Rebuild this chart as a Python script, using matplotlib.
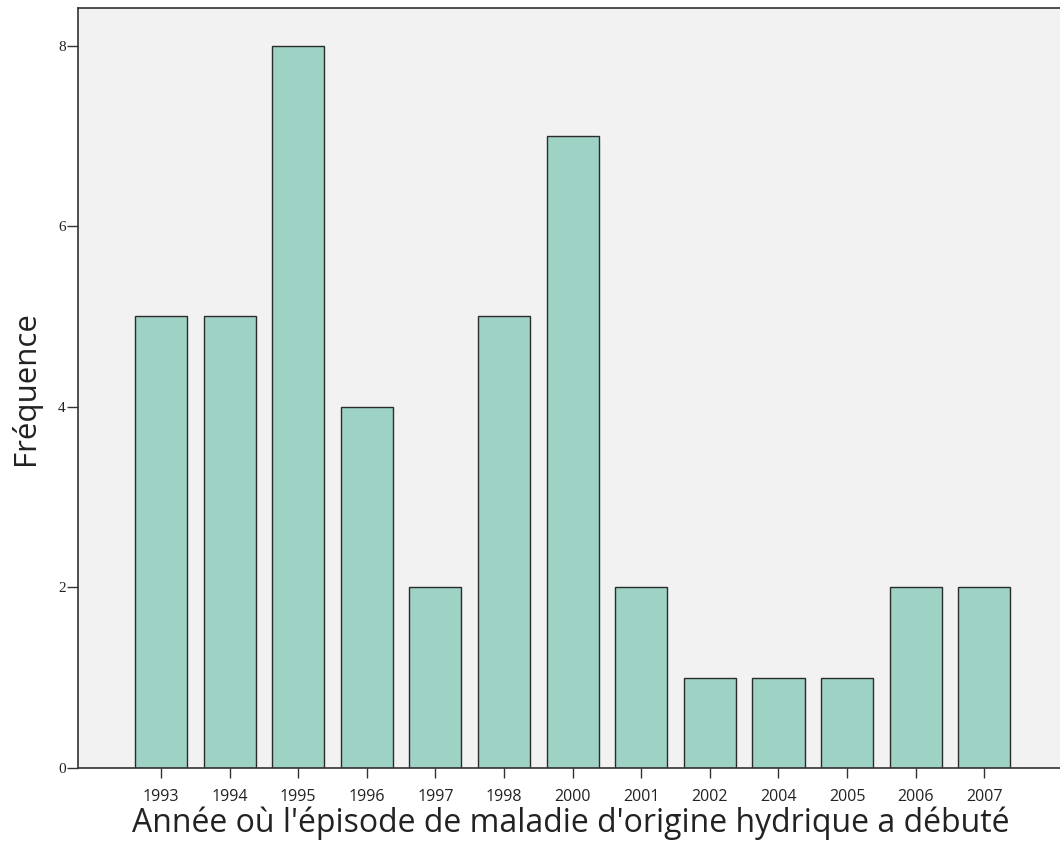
import matplotlib
matplotlib.use("Agg")
import matplotlib.pyplot as plt

# years and counts
years = ["1993", "1994", "1995", "1996", "1997", "1998", "2000",
         "2001", "2002", "2004", "2005", "2006", "2007"]
counts = [5, 5, 8, 4, 2, 5, 7, 2, 1, 1, 1, 2, 2]
y_ticks = [0, 2, 4, 6, 8]

fig = plt.figure(figsize=(10.6, 8.57), dpi=100)
ax = fig.add_axes([0.0736, 0.104, 0.93, 0.887])
ax.set_facecolor("#f2f2f2")

x = list(range(len(years)))
ax.bar(x, counts, width=0.76, color="#9ed2c5", edgecolor="#2b2b2b", linewidth=1.0, zorder=2)

ax.set_xlim(-1.21, 13.16)
ax.set_ylim(0, 8.42)
ax.set_xticks(x)
ax.set_xticklabels(years, fontsize=11.5, family="Open Sans", color="#222222")
ax.set_yticks(y_ticks)
ax.set_yticklabels([str(v) for v in y_ticks], fontsize=11, family="Liberation Serif", color="#222222")
ax.tick_params(axis="x", length=7, width=1, color="#333333", pad=8)
ax.tick_params(axis="y", length=8, width=1, color="#333333", pad=1)

for side in ["left", "top", "bottom"]:
    ax.spines[side].set_color("#333333")
    ax.spines[side].set_linewidth(1.2)
ax.spines["right"].set_visible(False)

ax.set_xlabel("Année où l'épisode de maladie d'origine hydrique a débuté",
              fontsize=23, family="Open Sans", color="#222222", labelpad=1)
ax.set_ylabel("Fréquence", fontsize=22.5, family="Open Sans", color="#222222", labelpad=12)

fig.savefig("out.png", dpi=100, facecolor="white")
